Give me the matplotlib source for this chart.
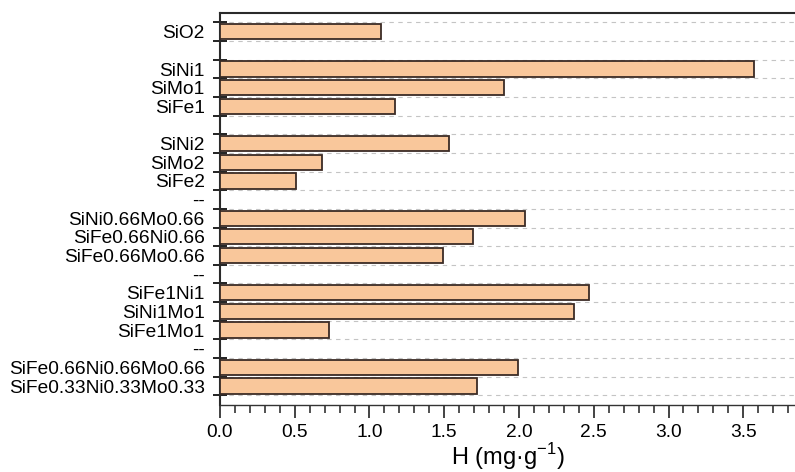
import matplotlib.pyplot as plt
import numpy as np

plt.rcParams['font.family'] = ['Liberation Sans', 'DejaVu Sans']

# rows from top to bottom; None = empty slot, '--' = separator row
labels = ['SiO2', '', 'SiNi1', 'SiMo1', 'SiFe1', '', 'SiNi2', 'SiMo2', 'SiFe2', '--',
          'SiNi0.66Mo0.66', 'SiFe0.66Ni0.66', 'SiFe0.66Mo0.66', '--',
          'SiFe1Ni1', 'SiNi1Mo1', 'SiFe1Mo1', '--',
          'SiFe0.66Ni0.66Mo0.66', 'SiFe0.33Ni0.33Mo0.33']
values = [1.08, None, 3.57, 1.90, 1.17, None, 1.53, 0.68, 0.51, None,
          2.04, 1.69, 1.49, None,
          2.47, 2.37, 0.73, None,
          1.99, 1.72]

pos = np.arange(len(labels))
bar_pos = [p for p, v in zip(pos, values) if v is not None]
bar_val = [v for v in values if v is not None]

fig = plt.figure(figsize=(7.95, 4.72), dpi=100)
ax = fig.add_axes([0.2767, 0.1419, 0.7233, 0.8312])

ax.barh(bar_pos, bar_val, height=0.82, color='#F9C79B', edgecolor='#3b2b25',
        linewidth=1.3, zorder=3)

ax.set_ylim(len(labels) - 0.5 + 0.52, -1.02)
ax.set_xlim(0, 3.846)

# labels at row centres, ticks + dashed grid at row boundaries
ax.set_yticks(pos)
ax.set_yticklabels(labels, fontsize=13.8)
ax.set_yticks(np.arange(len(labels) + 1) - 0.5, minor=True)
ax.tick_params(axis='y', which='major', length=0, pad=11)
ax.tick_params(axis='y', which='minor', direction='inout', length=10,
               width=1.4, color='#222222')
ax.grid(axis='y', which='minor', color='#c4c4c4', linestyle=(0, (4, 4)),
        linewidth=0.8, zorder=1)

ax.set_xticks(np.arange(0, 3.51, 0.5))
ax.set_xticklabels(['%.1f' % t for t in np.arange(0, 3.51, 0.5)], fontsize=13.8)
ax.set_xticks(np.arange(0, 3.85, 0.1), minor=True)
ax.tick_params(axis='x', which='major', direction='out', length=9, width=1.2,
               color='#222222', pad=5)
ax.tick_params(axis='x', which='minor', direction='out', length=5.5, width=1.1,
               color='#222222')

ax.set_xlabel('H (mg\u00b7g$^{\\mathregular{-1}}$)', fontsize=17, labelpad=0)

ax.spines['right'].set_visible(False)
ax.spines['top'].set_linewidth(1.5)
ax.spines['top'].set_color('#2a2a2a')
ax.spines['left'].set_linewidth(1.5)
ax.spines['left'].set_color('#2a2a2a')
ax.spines['bottom'].set_linewidth(1.0)
ax.spines['bottom'].set_color('#333333')

fig.savefig('out.png', dpi=100)
